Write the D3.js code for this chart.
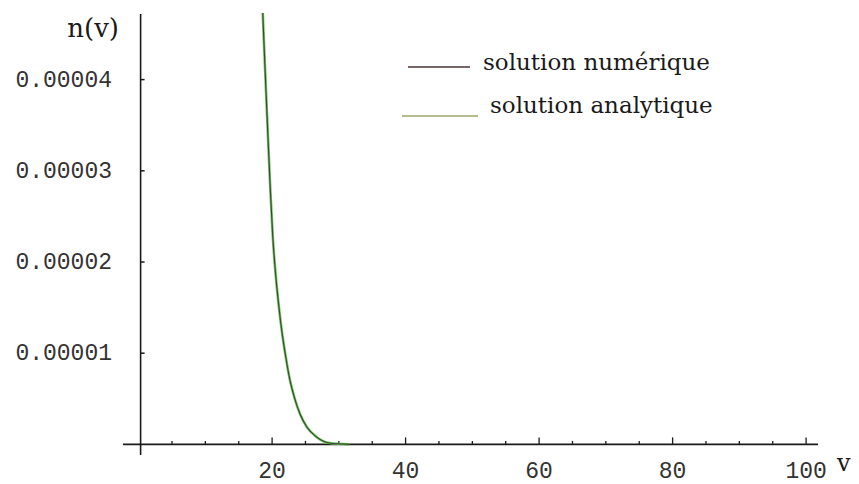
<!DOCTYPE html>
<html>
<head>
<meta charset="utf-8">
<script src="https://cdn.jsdelivr.net/npm/d3@7"></script>
<style>
  html, body { margin: 0; padding: 0; background: #fff; }
  svg { display: block; }
</style>
</head>
<body>
<svg id="chart" width="859" height="484"></svg>
<script>
// ---- data ----
const vValues = [18.6, 18.8, 19.1, 19.4, 19.75, 20.1, 20.5, 21.0, 21.5, 22.0, 22.6, 23.4, 24.2, 25.2, 26.6, 28.6, 31.6];
const numerique = [4.73e-5, 4.37e-5, 3.85e-5, 3.34e-5, 2.77e-5, 2.28e-5, 1.89e-5, 1.52e-5, 1.22e-5, 0.98e-5, 0.73e-5, 0.50e-5, 0.33e-5, 0.19e-5, 0.085e-5, 0.015e-5, 0.0];
const analytique = [4.73e-5, 4.37e-5, 3.85e-5, 3.34e-5, 2.77e-5, 2.28e-5, 1.89e-5, 1.52e-5, 1.22e-5, 0.98e-5, 0.73e-5, 0.50e-5, 0.33e-5, 0.19e-5, 0.085e-5, 0.015e-5, 0.0];
const xMajorTicks = [20, 40, 60, 80, 100];
const xMinorTicks = [5, 10, 15, 25, 30, 35, 45, 50, 55, 65, 70, 75, 85, 90, 95];
const yTicks = [0.00001, 0.00002, 0.00003, 0.00004];
const yTickLabels = ["0.00001", "0.00002", "0.00003", "0.00004"];
const seriesNames = ["solution numérique", "solution analytique"];

// ---- scales ----
const x = d3.scaleLinear().domain([0, 100]).range([138.6, 806.1]);
const y = d3.scaleLinear().domain([0, 0.00004]).range([444.4, 79.6]);
const axisOriginV = 0.3;

const svg = d3.select("#chart");
const axisColor = "#1a1a1a";
const monoFont = "'Liberation Mono', 'DejaVu Sans Mono', monospace";
const serifFont = "'DejaVu Serif', 'Liberation Serif', serif";

const x0 = x(axisOriginV), y0 = y(0);

// axes lines
svg.append("line").attr("x1", 123).attr("x2", 818).attr("y1", y0).attr("y2", y0)
  .attr("stroke", axisColor).attr("stroke-width", 1.6);
svg.append("line").attr("x1", x0).attr("x2", x0).attr("y1", 14).attr("y2", 455)
  .attr("stroke", axisColor).attr("stroke-width", 1.6);

// x ticks
svg.selectAll(".xmaj").data(xMajorTicks).enter().append("line")
  .attr("x1", d => x(d)).attr("x2", d => x(d)).attr("y1", y0).attr("y2", y0 - 7)
  .attr("stroke", axisColor).attr("stroke-width", 1.3);
svg.selectAll(".xmin").data(xMinorTicks).enter().append("line")
  .attr("x1", d => x(d)).attr("x2", d => x(d)).attr("y1", y0).attr("y2", y0 - 3.5)
  .attr("stroke", axisColor).attr("stroke-width", 1.3);
svg.selectAll(".xlab").data(xMajorTicks).enter().append("text")
  .attr("x", d => x(d)).attr("y", y0 + 34)
  .attr("text-anchor", "middle")
  .attr("font-family", monoFont).attr("font-size", 23).attr("fill", "#333")
  .text(d => d);

// y ticks
svg.selectAll(".ytk").data(yTicks).enter().append("line")
  .attr("x1", x0).attr("x2", x0 + 4).attr("y1", d => y(d)).attr("y2", d => y(d))
  .attr("stroke", axisColor).attr("stroke-width", 1.5);
svg.selectAll(".ylab").data(yTicks).enter().append("text")
  .attr("x", 112).attr("y", d => y(d) + 7)
  .attr("text-anchor", "end")
  .attr("font-family", monoFont).attr("font-size", 23).attr("fill", "#333")
  .text((d, i) => yTickLabels[i]);

// axis labels
svg.append("text").attr("x", 119).attr("y", 37).attr("text-anchor", "end")
  .attr("font-family", serifFont).attr("font-size", 26).attr("fill", "#1a1a1a")
  .text("n(v)");
svg.append("text").attr("x", 837).attr("y", 471)
  .attr("font-family", serifFont).attr("font-size", 24).attr("fill", "#1a1a1a")
  .text("v");

// curves
const line = d3.line().x((d, i) => x(vValues[i])).y(d => y(d)).curve(d3.curveMonotoneX);
svg.append("path").datum(analytique).attr("d", line)
  .attr("fill", "none").attr("stroke", "#5cc04c").attr("stroke-width", 2.6).attr("stroke-opacity", 0.9);
svg.append("path").datum(numerique).attr("d", line)
  .attr("fill", "none").attr("stroke", "#3c4432").attr("stroke-width", 1.1);

// legend
const legend = [
  { name: seriesNames[0], color: "#4a3434", lx1: 408, lx2: 470, ly: 67, tx: 483, ty: 70 },
  { name: seriesNames[1], color: "#9aa46a", lx1: 402, lx2: 478, ly: 116, tx: 490, ty: 113 }
];
const lg = svg.selectAll(".lg").data(legend).enter().append("g");
lg.append("line").attr("x1", d => d.lx1).attr("x2", d => d.lx2).attr("y1", d => d.ly).attr("y2", d => d.ly)
  .attr("stroke", d => d.color).attr("stroke-width", 1.6);
lg.append("text").attr("x", d => d.tx).attr("y", d => d.ty)
  .attr("font-family", serifFont).attr("font-size", 23).attr("fill", "#1a1a1a")
  .text(d => d.name);
</script>
</body>
</html>
